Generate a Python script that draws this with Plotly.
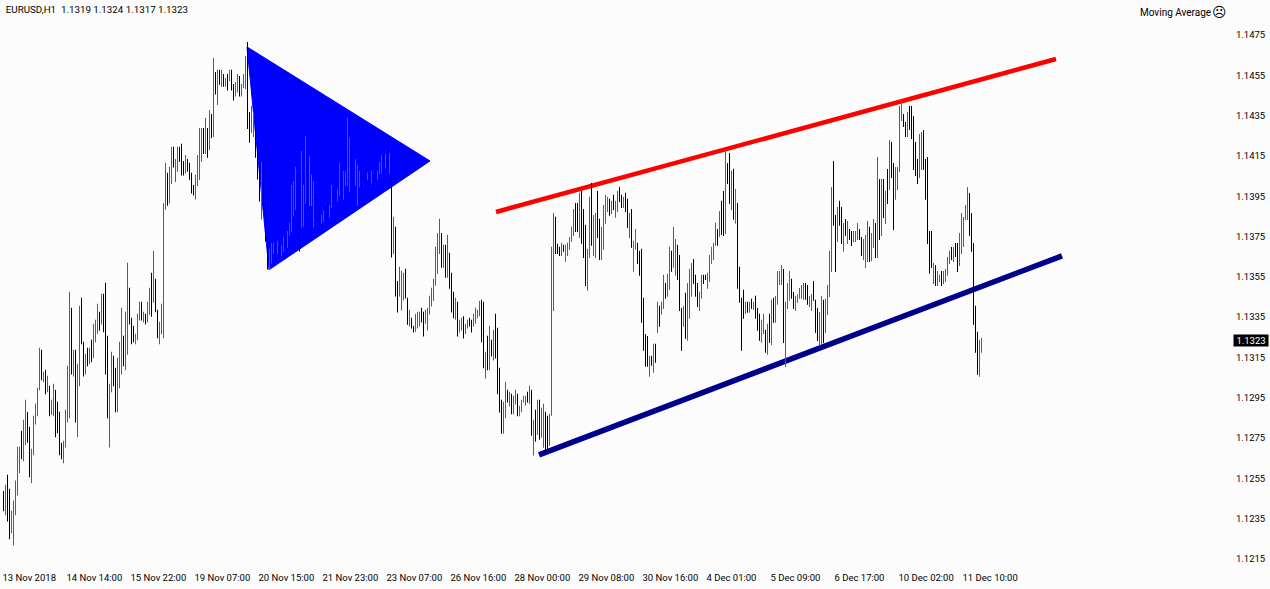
import plotly.graph_objects as go

symbol_header = "EURUSD,H1  1.1319 1.1324 1.1317 1.1323"
indicator_label = "Moving Average"
indicator_face = "☹"
last_price = 1.1323

highs = [
1.12482,1.12514,1.12563,1.12494,1.12385,1.12435,1.12534,1.12702,1.12702,1.12781,
1.12836,1.12935,1.12874,1.12801,1.12692,1.12856,1.12916,1.12995,1.13193,1.13183,
1.13074,1.13084,1.13054,1.13005,1.12935,1.13015,1.12985,1.12925,1.12876,1.12722,
1.12732,1.12886,1.13104,1.13471,1.13392,1.13183,1.13183,1.13114,1.13401,1.13441,
1.13223,1.13163,1.13193,1.13193,1.13233,1.13312,1.13332,1.13411,1.13372,1.13461,
1.13461,1.13516,1.13253,1.13015,1.13173,1.13154,1.13094,1.13144,1.13223,1.13392,
1.13253,1.13372,1.13615,1.13491,1.13342,1.13302,1.13263,1.13362,1.13421,1.13421,
1.13372,1.13362,1.13421,1.13491,1.13565,1.13674,1.13535,1.13382,1.13322,1.13411,
1.13910,1.14111,1.14061,1.14091,1.14190,1.14190,1.14130,1.14190,1.14190,1.14205,
1.14120,1.14150,1.14130,1.14111,1.14061,1.14001,1.14051,1.14150,1.14284,1.14284,
1.14284,1.14334,1.14284,1.14373,1.14353,1.14631,1.14562,1.14572,1.14572,1.14572,
1.14552,1.14532,1.14552,1.14572,1.14572,1.14502,1.14512,1.14552,1.14542,1.14502,
1.14552,1.14641,1.14710,1.14363,1.14393,1.14363,1.14343,1.14215,1.14116,1.14116,
1.14120,1.13919,1.13744,1.13684,1.13714,1.13714,1.13704,1.13724,1.13724,1.13704,
1.13744,1.13744,1.13773,1.13813,1.14001,1.14021,1.14091,1.14051,1.14061,1.14170,
1.14001,1.14244,1.14109,1.14142,1.14051,1.14021,1.13960,1.13930,1.13897,1.13853,
1.13873,1.13897,1.13912,1.13902,1.14001,1.13987,1.13973,1.13982,1.14111,1.14079,
1.14071,1.14071,1.14334,1.14235,1.14190,1.14059,1.14129,1.14101,1.14071,1.14091,
1.14081,1.14081,1.14061,1.14059,1.14071,1.14051,1.14051,1.14071,1.14117,1.14150,
1.14150,1.14155,1.14205,1.14159,1.14178,1.13843,1.13793,1.13525,1.13595,1.13575,
1.13565,1.13585,1.13441,1.13382,1.13342,1.13302,1.13362,1.13372,1.13372,1.13392,
1.13372,1.13382,1.13392,1.13451,1.13491,1.13535,1.13694,1.13763,1.13833,1.13763,
1.13704,1.13704,1.13754,1.13664,1.13565,1.13471,1.13441,1.13421,1.13332,1.13342,
1.13349,1.13312,1.13332,1.13342,1.13332,1.13362,1.13392,1.13382,1.13426,1.13431,
1.13421,1.13173,1.13253,1.13302,1.13233,1.13282,1.13362,1.13292,1.13094,1.12935,
1.12925,1.13025,1.12985,1.12975,1.12965,1.12955,1.12985,1.12965,1.12906,1.12935,
1.12955,1.12955,1.12975,1.13005,1.12985,1.12836,1.12886,1.12935,1.12935,1.12896,
1.12915,1.12876,1.12856,1.12866,1.13694,1.13862,1.13843,1.13709,1.13694,1.13714,
1.13704,1.13704,1.13714,1.13743,1.13793,1.13882,1.13912,1.13912,1.13962,1.13971,
1.13882,1.13803,1.13684,1.13942,1.14011,1.13852,1.13862,1.13971,1.13833,1.13793,
1.13902,1.13952,1.13942,1.13932,1.13922,1.13952,1.13922,1.13971,1.13991,1.13952,
1.13942,1.13962,1.13932,1.13862,1.13882,1.13724,1.13783,1.13714,1.13674,1.13684,
1.13441,1.13262,1.13252,1.13153,1.13153,1.13213,1.13213,1.13421,1.13401,1.13421,
1.13555,1.13515,1.13560,1.13694,1.13674,1.13793,1.13733,1.13704,1.13654,1.13391,
1.13401,1.13466,1.13515,1.13585,1.13614,1.13634,1.13555,1.13515,1.13471,1.13555,
1.13555,1.13555,1.13565,1.13654,1.13694,1.13714,1.13813,1.13783,1.13872,1.13922,
1.13971,1.14180,1.14110,1.14160,1.14071,1.14081,1.13981,1.13912,1.13595,1.13441,
1.13481,1.13421,1.13421,1.13421,1.13436,1.13421,1.13451,1.13391,1.13362,1.13332,
1.13362,1.13282,1.13312,1.13362,1.13431,1.13441,1.13450,1.13574,1.13574,1.13604,
1.13584,1.13421,1.13515,1.13574,1.13535,1.13470,1.13450,1.13460,1.13490,1.13505,
1.13515,1.13515,1.13505,1.13450,1.13460,1.13525,1.13431,1.13391,1.13371,1.13450,
1.13431,1.13436,1.13505,1.13674,1.13991,1.14120,1.13852,1.13892,1.13922,1.13892,
1.13812,1.13832,1.13822,1.13783,1.13773,1.13773,1.13773,1.13812,1.13783,1.13743,
1.13733,1.13753,1.13822,1.13793,1.13763,1.13832,1.13812,1.14140,1.14031,1.14031,
1.14031,1.13971,1.14080,1.14224,1.14214,1.14110,1.14090,1.14090,1.14393,1.14422,
1.14353,1.14313,1.14363,1.14393,1.14393,1.14343,1.14214,1.14130,1.14254,1.14264,
1.14274,1.14130,1.14140,1.13773,1.13773,1.13614,1.13604,1.13574,1.13555,1.13574,
1.13574,1.13584,1.13644,1.13674,1.13693,1.13693,1.13713,1.13713,1.13763,1.13862,
1.13842,1.13902,1.13991,1.13961,1.13862,1.13713,1.13401,1.13272,1.13232,1.13242,
]

lows = [
1.12382,1.12362,1.12331,1.12243,1.12273,1.12212,1.12362,1.12460,1.12570,1.12640,
1.12630,1.12709,1.12722,1.12551,1.12521,1.12660,1.12812,1.12853,1.12982,1.13032,
1.13022,1.12962,1.12972,1.12853,1.12859,1.12853,1.12749,1.12769,1.12660,1.12640,
1.12620,1.12698,1.12822,1.12843,1.13060,1.13050,1.12822,1.12749,1.13002,1.13210,
1.13050,1.13060,1.13101,1.13111,1.13121,1.13141,1.13220,1.13262,1.13278,1.13309,
1.13270,1.13060,1.12843,1.12698,1.12972,1.13002,1.12873,1.12873,1.12992,1.13060,
1.13101,1.13081,1.13159,1.13309,1.13210,1.13220,1.13210,1.13230,1.13329,1.13329,
1.13319,1.13309,1.13319,1.13357,1.13347,1.13417,1.13369,1.13240,1.13210,1.13260,
1.13240,1.13878,1.13898,1.13909,1.14006,1.14088,1.14016,1.14066,1.14116,1.14048,
1.14048,1.14058,1.14066,1.14026,1.13959,1.13949,1.13929,1.13996,1.14026,1.14116,
1.14155,1.14155,1.14136,1.14175,1.14234,1.14239,1.14450,1.14398,1.14498,1.14488,
1.14488,1.14488,1.14470,1.14517,1.14470,1.14420,1.14440,1.14460,1.14440,1.14440,
1.14482,1.14477,1.14279,1.14210,1.14259,1.14239,1.14136,1.14028,1.13919,1.13830,
1.13878,1.13721,1.13582,1.13582,1.13611,1.13659,1.13641,1.13659,1.13649,1.13649,
1.13669,1.13696,1.13689,1.13749,1.13768,1.13848,1.13878,1.13778,1.13671,1.13788,
1.13793,1.13907,1.13861,1.13897,1.13897,1.13788,1.13838,1.13818,1.13801,1.13808,
1.13818,1.13844,1.13828,1.13838,1.13887,1.13927,1.13907,1.13919,1.13944,1.13937,
1.13927,1.13997,1.13997,1.13967,1.14038,1.14006,1.13997,1.13897,1.13987,1.13987,
1.14026,1.14010,1.14026,1.14001,1.14010,1.13997,1.14010,1.14026,1.14051,1.14056,
1.14114,1.14084,1.14091,1.14056,1.13641,1.13659,1.13448,1.13368,1.13448,1.13378,
1.13428,1.13438,1.13307,1.13299,1.13289,1.13269,1.13273,1.13289,1.13299,1.13319,
1.13249,1.13312,1.13279,1.13358,1.13398,1.13426,1.13501,1.13560,1.13659,1.13590,
1.13590,1.13540,1.13540,1.13486,1.13368,1.13339,1.13332,1.13249,1.13269,1.13279,
1.13239,1.13263,1.13289,1.13299,1.13269,1.13299,1.13312,1.13339,1.13349,1.13220,
1.13091,1.13041,1.13081,1.13081,1.13150,1.13130,1.13140,1.12962,1.12872,1.12767,
1.12767,1.12843,1.12922,1.12902,1.12863,1.12863,1.12912,1.12853,1.12853,1.12873,
1.12922,1.12906,1.12922,1.12915,1.12757,1.12658,1.12727,1.12760,1.12737,1.12747,
1.12697,1.12687,1.12687,1.12707,1.12856,1.13376,1.13659,1.13659,1.13649,1.13649,
1.13669,1.13619,1.13649,1.13679,1.13719,1.13748,1.13768,1.13768,1.13738,1.13709,
1.13639,1.13500,1.13476,1.13639,1.13699,1.13649,1.13639,1.13738,1.13629,1.13629,
1.13679,1.13808,1.13867,1.13848,1.13857,1.13877,1.13838,1.13867,1.13917,1.13887,
1.13887,1.13867,1.13788,1.13738,1.13689,1.13570,1.13679,1.13609,1.13550,1.13317,
1.13178,1.13099,1.13099,1.13049,1.13104,1.13069,1.13119,1.13267,1.13297,1.13357,
1.13386,1.13436,1.13446,1.13481,1.13570,1.13590,1.13550,1.13530,1.13376,1.13178,
1.13297,1.13238,1.13228,1.13337,1.13446,1.13510,1.13446,1.13396,1.13376,1.13436,
1.13510,1.13530,1.13486,1.13520,1.13609,1.13629,1.13699,1.13699,1.13743,1.13753,
1.13748,1.13758,1.14006,1.13907,1.13877,1.13828,1.13808,1.13486,1.13416,1.13178,
1.13337,1.13362,1.13367,1.13367,1.13386,1.13381,1.13337,1.13277,1.13228,1.13218,
1.13262,1.13168,1.13158,1.13218,1.13207,1.13317,1.13317,1.13406,1.13505,1.13505,
1.13217,1.13098,1.13386,1.13426,1.13436,1.13386,1.13376,1.13416,1.13436,1.13436,
1.13431,1.13431,1.13406,1.13396,1.13376,1.13426,1.13267,1.13227,1.13202,1.13207,
1.13217,1.13267,1.13356,1.13445,1.13569,1.13798,1.13569,1.13718,1.13798,1.13708,
1.13669,1.13748,1.13708,1.13728,1.13698,1.13718,1.13718,1.13728,1.13728,1.13649,
1.13629,1.13589,1.13619,1.13619,1.13624,1.13688,1.13639,1.13639,1.13728,1.13748,
1.13837,1.13807,1.13907,1.13976,1.14036,1.13778,1.13927,1.13976,1.14065,1.14318,
1.14289,1.14239,1.14239,1.14274,1.14229,1.14075,1.14046,1.14006,1.14036,1.14075,
1.14075,1.13927,1.13708,1.13560,1.13589,1.13510,1.13500,1.13500,1.13520,1.13500,
1.13510,1.13520,1.13550,1.13609,1.13629,1.13619,1.13644,1.13569,1.13599,1.13659,
1.13693,1.13827,1.13827,1.13748,1.13669,1.13307,1.13168,1.13059,1.13049,1.13168,
]

# One letter per bar: U = closed up, D = closed down, T = unchanged
directions = (
"DUDDTUUUUD" "UUDDUUUUUD" "UDUDUUDDDD" "UUUUDUDUUD" "DUDUDUUUDU"
"DDDUUDDUUU" "DUUDDDTUUD" "UDUUDUDDUU" "UUDUUDUUDD" "DUDDDDUUUU"
"DUDUDUDUDU" "DUDTDDUUDU" "UUDDUUDDDU" "DDDUUUDUDU" "UDUUUUUDDU"
"UUDTTUDDDU" "UDDUUDDUUD" "UUUUDDTUUD" "DDUDUDDUUU" "DUDUDUDDUU"
"UDDUDDUUUD" "DUUUUUUUUD" "UDUDDDUDUU" "DUUDDUUUUD" "DUDUDUDDDD"
"UUDUDUUDTU" "TUDUDUDUDU" "UDDUUUDDDU" "DTUUUUDDUD" "DDUUDUUDDU"
"UUUDUDUUDD" "TDDUDTTDDD" "DDDUDUDUDU" "UDUUDUUDDD" "TDUUUDDDUU"
"DDUUTUUDUD" "DUDDUDTDDD" "DUDUDUDDDT" "UDUDUDUUTU" "DUUTDDUTUU"
"UDDUUDDDUU" "DUUUUDDUDD" "UDUDDUUUDD" "UTUDUUDUDU" "DUDUDDUUUT"
"DDUDDDDDUU" "DDDDDUDUUD" "UUUUDUDDUU" "UUUDDDDDUU"
)

tick_bars = [0, 32, 64, 96, 128, 160, 192, 224, 256, 288, 320, 352, 384, 416, 448, 480]
tick_labels = ["13 Nov 2018", "14 Nov 14:00", "15 Nov 22:00", "19 Nov 07:00", "20 Nov 15:00",
               "21 Nov 23:00", "23 Nov 07:00", "26 Nov 16:00", "28 Nov 00:00", "29 Nov 08:00",
               "30 Nov 16:00", "4 Dec 01:00", "5 Dec 09:00", "6 Dec 17:00", "10 Dec 02:00",
               "11 Dec 10:00"]
price_ticks = [1.1475, 1.1455, 1.1435, 1.1415, 1.1395, 1.1375, 1.1355,
               1.1335, 1.1315, 1.1295, 1.1275, 1.1255, 1.1235, 1.1215]

triangle_bars = [121.75, 213.25, 132.75]
triangle_prices = [1.14686, 1.14120, 1.13580]
upper_line_bars = [246.25, 526.25]
upper_line_prices = [1.13867, 1.14626]
lower_line_bars = [267.75, 529.25]
lower_line_prices = [1.12662, 1.13649]

COLORS = {"U": "#8a2be2", "D": "#000000", "T": "#0a84b4"}
FONT = "Roboto, DejaVu Sans, sans-serif"

fig = go.Figure()
for key, name in (("U", "Up"), ("D", "Down"), ("T", "Unchanged")):
    idx = [i for i, d in enumerate(directions) if d == key]
    fig.add_trace(go.Bar(
        x=idx,
        y=[highs[i] - lows[i] for i in idx],
        base=[lows[i] for i in idx],
        width=0.5,
        name=name,
        marker=dict(color=COLORS[key], line=dict(width=0)),
        hoverinfo="skip",
    ))

path = "M " + " L ".join(f"{x},{y}" for x, y in zip(triangle_bars, triangle_prices)) + " Z"
shapes = [
    dict(type="path", path=path, fillcolor="#0000ff", line=dict(color="#0000ff", width=1), layer="below"),
    dict(type="line", x0=upper_line_bars[0], x1=upper_line_bars[1], y0=upper_line_prices[0],
         y1=upper_line_prices[1], line=dict(color="#ff0000", width=4.5), layer="below"),
    dict(type="line", x0=lower_line_bars[0], x1=lower_line_bars[1], y0=lower_line_prices[0],
         y1=lower_line_prices[1], line=dict(color="#00008b", width=5.5), layer="below"),
]

fig.update_layout(
    width=1270, height=589,
    autosize=False,
    margin=dict(l=0, r=38, t=0, b=23, pad=0),
    paper_bgcolor="#fcfcfc", plot_bgcolor="#fcfcfc",
    barmode="overlay",
    showlegend=False,
    font=dict(family=FONT, size=10, color="#000000"),
    title=dict(text=symbol_header, x=6 / 1270, xref="paper", xanchor="left",
               y=1 - 10 / 589, yref="container", yanchor="middle",
               font=dict(family=FONT, size=9.75, color="#000000")),
    xaxis=dict(range=[-1.75, 614.25], tickmode="array", tickvals=tick_bars, ticktext=tick_labels,
               ticklabelposition="outside right", tickangle=0, ticklabelstandoff=4, ticklabelshift=-1,
               showgrid=False, zeroline=False, showline=False, ticks="", fixedrange=True,
               tickfont=dict(family=FONT, size=9.5, color="#000000")),
    yaxis=dict(range=[1.121103, 1.149187], side="right", tickmode="array", tickvals=price_ticks,
               ticktext=[f"{p:.4f}" for p in price_ticks], ticklabelshift=1, ticklabelstandoff=3,
               showgrid=False, zeroline=False, showline=False, ticks="", fixedrange=True,
               tickfont=dict(family=FONT, size=9.5, color="#000000")),
    shapes=shapes,
    annotations=[
        dict(text=indicator_label, xref="paper", yref="paper", x=1213 / 1232, y=1 - 12 / 566,
             xanchor="right", yanchor="middle", showarrow=False,
             font=dict(family=FONT, size=10, color="#000000")),
        dict(text=indicator_face, xref="paper", yref="paper", x=1219.5 / 1232, y=1 - 11.5 / 566,
             xanchor="center", yanchor="middle", showarrow=False,
             font=dict(family="DejaVu Sans", size=14, color="#000000")),
        dict(text=f"{last_price:.4f}", xref="paper", yref="y", x=1, xshift=1, y=last_price,
             xanchor="left", yanchor="middle", showarrow=False, bgcolor="#000000", borderpad=0,
             width=34, height=11, align="center",
             font=dict(family=FONT, size=9.5, color="#ffffff")),
    ],
)

fig.write_html("out.html", config={"displayModeBar": False},
               post_script="document.body.style.margin='0';")
